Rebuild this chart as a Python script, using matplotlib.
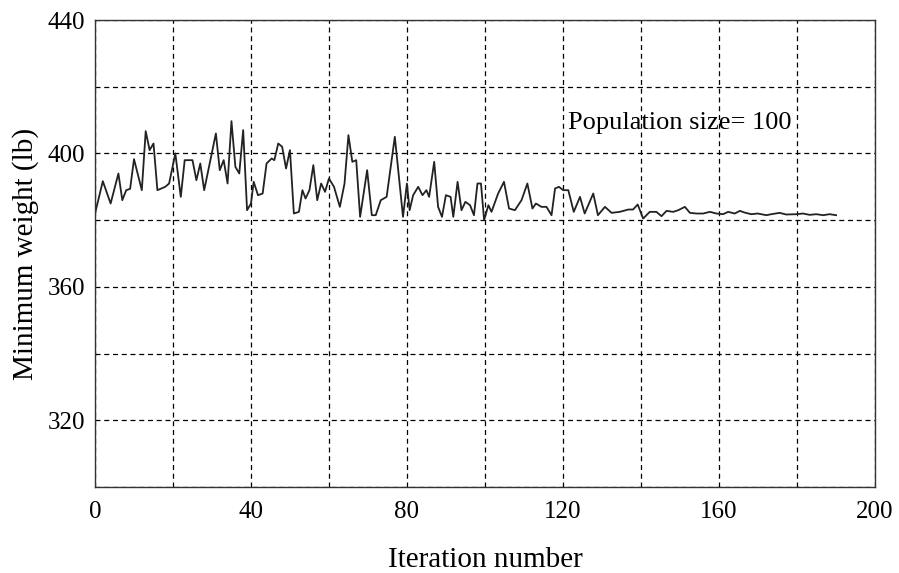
import matplotlib.pyplot as plt

plt.rcParams['font.family'] = ['Liberation Serif', 'DejaVu Serif']

# data
iteration = [0, 2, 4, 6, 7, 8, 9, 10, 12, 13, 14, 15, 16, 18, 19, 20.6, 22, 23, 25, 26,
             27, 28, 31, 32, 33, 34, 35, 36, 37, 38, 39, 40, 40.7, 41.8, 43, 44, 45.3, 46,
             47, 48, 49, 50, 51, 52.3, 53.2, 54, 55, 56, 57, 58, 59, 60, 61.3, 62.8, 64,
             65, 66, 67, 68, 69.8, 71, 72, 73.3, 74.8, 76.9, 79, 80, 80.7, 81.6, 82.9,
             84, 85, 85.7, 87, 88, 89, 90, 91.2, 91.9, 93, 94, 95, 96.2, 97.2, 98.1, 99,
             99.8, 100.9, 101.7, 103.4, 104.9, 106.2, 107.7, 109.4, 110.9, 112.2, 113.1,
             114.5, 115.8, 117.1, 118, 119, 120.1, 121.4, 122.8, 124.4, 125.6, 127.8, 129,
             130.8, 132.5, 134.6, 136.8, 138, 139.2, 140.6, 142.3, 144, 145.3, 146.6,
             148.3, 149.6, 151.3, 152.6, 154.3, 156, 157.7, 159.4, 161.1, 162.4, 164.1,
             165.4, 166.6, 168.3, 170, 172.2, 173.5, 175.6, 177.3, 179.9, 181.6, 183.3,
             185, 186.8, 188.4, 190.1]
weight = [382, 391.7, 385, 394, 386, 389, 389.4, 398.3, 389, 406.7, 401, 403, 389, 390,
          391, 400, 387, 398, 398, 392, 397, 389, 406, 395, 398, 391, 409.7, 396, 394,
          407, 383, 385, 391.5, 387.5, 388, 397, 398.5, 398, 403, 402, 395.5, 401, 382,
          382.5, 389, 386.5, 389, 396.5, 386, 391, 388.5, 392.5, 390, 384, 391, 405.5,
          397.5, 398, 381, 395, 381.5, 381.5, 386, 387, 405, 381, 391, 383, 387.5, 390,
          387.5, 389, 387, 397.5, 384, 381, 387.5, 387, 381, 391.5, 383, 385.5, 384.5,
          381.5, 391, 391, 380, 384.5, 382.5, 388, 391.5, 383.5, 383, 386, 391, 383.5,
          385, 384, 384, 381.5, 389.5, 390, 389, 389, 382.5, 387, 382, 388, 381.5, 384,
          382.2, 382.5, 383.2, 383.2, 384.7, 380.5, 382.5, 382.5, 381.2, 382.8, 382.5,
          383, 384, 382.2, 382, 382, 382.5, 382, 381.8, 382.5, 382, 382.8, 382.3, 381.8,
          382, 381.5, 381.8, 382.2, 381.7, 381.8, 382, 381.6, 381.8, 381.5, 381.8, 381.5]

fig = plt.figure(figsize=(8.99, 5.73), dpi=100)
ax = fig.add_axes([0.1057, 0.150, 0.8673, 0.815])

ax.plot(iteration, weight, color='#222222', lw=1.3)

ax.set_xlim(0, 200)
ax.set_ylim(300, 440)
ax.set_xticks(range(0, 201, 40))
ax.set_yticks(range(320, 441, 40))
ax.set_xticks(range(0, 201, 20), minor=True)
ax.set_yticks(range(300, 441, 20), minor=True)
ax.grid(True, which='both', linestyle='--', color='black', lw=0.9, dashes=(4, 3))
ax.tick_params(which='both', direction='in', length=0, labelsize=18, pad=7)
ax.tick_params(axis='x', pad=10)
for s in ax.spines.values():
    s.set_color('#333333')
    s.set_linewidth(1.0)

ax.text(121.3, 409, 'Population size= 100', fontsize=19, va='center', ha='left')
ax.set_xlabel('Iteration number', fontsize=21, labelpad=17)
ax.set_ylabel('Minimum weight (lb)', fontsize=21, labelpad=6)

fig.savefig('out.png')
